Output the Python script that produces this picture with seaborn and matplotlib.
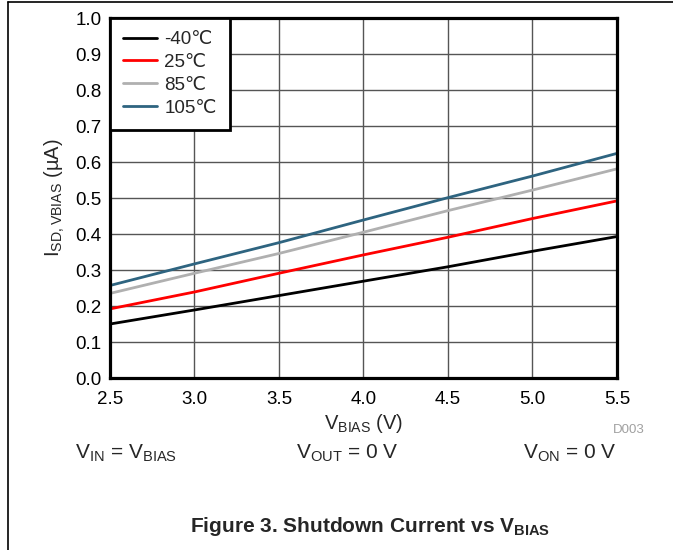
import matplotlib
matplotlib.use("Agg")
import matplotlib.pyplot as plt
from matplotlib.lines import Line2D
import seaborn as sns
import pandas as pd

# ── data ─────────────────────────────────────────────────────────────────────
v_bias = [2.5, 3.0, 3.5, 4.0, 4.5, 5.0, 5.5]
i_m40 = [0.150, 0.189, 0.229, 0.269, 0.309, 0.352, 0.393]
i_25 = [0.192, 0.239, 0.291, 0.342, 0.391, 0.443, 0.492]
i_85 = [0.235, 0.291, 0.346, 0.405, 0.465, 0.522, 0.581]
i_105 = [0.257, 0.317, 0.376, 0.439, 0.501, 0.561, 0.624]
temps = ["-40℃", "25℃", "85℃", "105℃"]
colors = ["#000000", "#ff0000", "#b0b0b0", "#2e6480"]

df = pd.concat([
    pd.DataFrame({"vbias": v_bias, "isd": vals, "temp": t})
    for t, vals in zip(temps, [i_m40, i_25, i_85, i_105])
])

sns.set_theme(style="white")
plt.rcParams["font.family"] = ["Liberation Sans", "DejaVu Sans"]
plt.rcParams["mathtext.fontset"] = "custom"
plt.rcParams["mathtext.rm"] = "Liberation Sans"
plt.rcParams["mathtext.bf"] = "Liberation Sans:bold"

fig = plt.figure(figsize=(6.73, 5.5), dpi=100)
ax = fig.add_axes([0.1634, 0.3127, 0.7533, 0.6545])

sns.lineplot(data=df, x="vbias", y="isd", hue="temp", hue_order=temps,
             palette=colors, linewidth=2, ax=ax, legend=False)

ax.set_xlim(2.5, 5.5)
ax.set_ylim(0, 1.0)
ax.set_xticks(v_bias)
ax.set_xticklabels([f"{v:.1f}" for v in v_bias])
yt = [i / 10 for i in range(11)]
ax.set_yticks(yt)
ax.set_yticklabels([f"{v:.1f}" for v in yt])
ax.tick_params(length=0, labelsize=13.5, colors="black")
ax.tick_params(axis="x", pad=9)
ax.tick_params(axis="y", pad=6)
ax.grid(True, color="#555555", linewidth=1)
for s in ax.spines.values():
    s.set_color("black")
    s.set_linewidth(2.3)

ax.set_xlabel(r"V$_{\mathregular{BIAS}}$ (V)", fontsize=14.5, labelpad=3)
ax.set_ylabel(r"I$_{\mathregular{SD,VBIAS}}$ (µA)", fontsize=14.5, labelpad=6)

handles = [Line2D([], [], color=c, linewidth=2) for c in colors]
leg = ax.legend(handles, temps, loc="upper left", fontsize=13.5,
                frameon=True, fancybox=False, borderaxespad=0,
                handlelength=1.8, handletextpad=0.4, labelspacing=0.3,
                borderpad=0.7)
leg.get_frame().set_edgecolor("black")
leg.get_frame().set_linewidth(2)
leg.get_frame().set_facecolor("white")
leg.get_frame().set_alpha(1)

# annotations below the plot
fig.text(645 / 673, 1 - 430 / 550, "D003", color="#a0a0a0", fontsize=9.5,
         ha="right", va="center")
fig.text(75 / 673, 1 - 453 / 550, r"V$_{\mathregular{IN}}$ = V$_{\mathregular{BIAS}}$",
         fontsize=15, ha="left", va="center")
fig.text(296 / 673, 1 - 453 / 550, r"V$_{\mathregular{OUT}}$ = 0 V",
         fontsize=15, ha="left", va="center")
fig.text(523 / 673, 1 - 453 / 550, r"V$_{\mathregular{ON}}$ = 0 V",
         fontsize=15, ha="left", va="center")
fig.text(370 / 673, 1 - 527 / 550,
         r"Figure 3. Shutdown Current vs V$_{\mathbf{BIAS}}$",
         fontsize=15, fontweight="bold", ha="center", va="center")

# page frame lines
fig.add_artist(Line2D([8 / 673, 8 / 673], [0, 1 - 2 / 550], color="black",
                      linewidth=1.2, transform=fig.transFigure))
fig.add_artist(Line2D([8 / 673, 1], [1 - 2 / 550, 1 - 2 / 550], color="black",
                      linewidth=1.2, transform=fig.transFigure))

fig.savefig("out.png", dpi=100)
